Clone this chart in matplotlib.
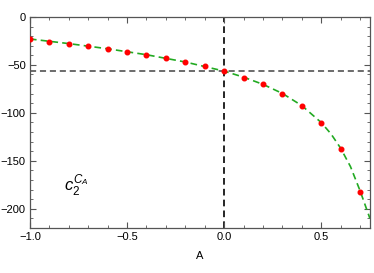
import matplotlib
matplotlib.use("Agg")
import matplotlib.pyplot as plt
from matplotlib.ticker import MultipleLocator

plt.rcParams['font.family'] = ['Liberation Sans', 'DejaVu Sans']
plt.rcParams['mathtext.fontset'] = 'custom'
plt.rcParams['mathtext.it'] = 'Liberation Sans:italic'
plt.rcParams['mathtext.rm'] = 'Liberation Sans'

# sampled points
A_pts = [-1.0, -0.9, -0.8, -0.7, -0.6, -0.5, -0.4, -0.3, -0.2, -0.1,
         0.0, 0.1, 0.2, 0.3, 0.4, 0.5, 0.6, 0.7]
c2_pts = [-23.2, -25.7, -27.8, -30.2, -33.3, -36.8, -39.2, -42.7, -47.2, -51.0,
          -56.6, -63.2, -70.1, -80.2, -92.7, -110.4, -137.2, -182.3]

# fitted curve
A_fit = [-1.0, -0.8, -0.6, -0.4, -0.2, 0.0, 0.1, 0.2, 0.3, 0.4, 0.5, 0.55,
         0.6, 0.65, 0.7, 0.75]
c2_fit = [-23.0, -27.8, -33.2, -39.4, -47.0, -56.5, -62.8, -70.3, -79.8, -92.5,
          -110.2, -122.0, -137.0, -156.0, -181.5, -210.0]

A_ref = 0.0
c2_ref = -56.5

fig = plt.figure(figsize=(3.74, 2.73), dpi=100)
ax = fig.add_axes([0.080, 0.165, 0.909, 0.773])

ax.axvline(A_ref, color='black', ls=(0, (4, 2.5)), lw=1.2, zorder=1)
ax.axhline(c2_ref, color='#444444', ls=(0, (4, 2.5)), lw=1.1, zorder=1)
ax.plot(A_fit, c2_fit, color='#22aa22', ls=(0, (4, 2.5)), lw=1.2, zorder=2)
ax.plot(A_pts, c2_pts, 'o', color='red', ms=3.3, zorder=3)

ax.set_xlim(-1.0, 0.75)
ax.set_ylim(-220, 0)
ax.xaxis.set_major_locator(MultipleLocator(0.5))
ax.xaxis.set_minor_locator(MultipleLocator(0.1))
ax.yaxis.set_major_locator(MultipleLocator(50))
ax.yaxis.set_minor_locator(MultipleLocator(10))
ax.xaxis.set_major_formatter(plt.FuncFormatter(lambda v, p: f"{v:.1f}".replace('-', '\u2212')))
ax.yaxis.set_major_formatter(plt.FuncFormatter(lambda v, p: f"{v:.0f}".replace('-', '\u2212')))
ax.tick_params(which='both', direction='in', top=True, right=True, color='#555555',
               labelsize=8, pad=3)
ax.tick_params(which='major', length=4)
ax.tick_params(which='minor', length=2)
for s in ax.spines.values():
    s.set_color('#555555')
    s.set_linewidth(0.9)

fig.text(200 / 374, 1 - 256 / 273, 'A', fontsize=8, ha='center', va='center')
ax.text(-0.76, -175, r'$c_2^{C_A}$', fontsize=12, ha='center', va='center')

fig.savefig('out.png', dpi=100)
